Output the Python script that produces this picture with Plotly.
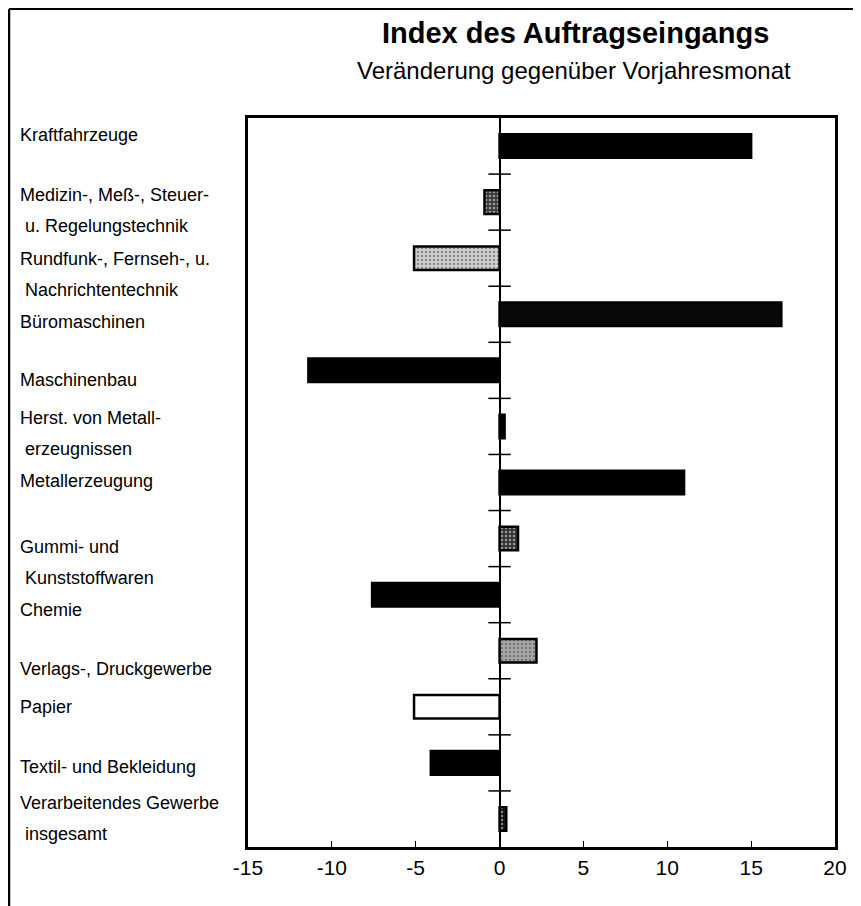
import plotly.graph_objects as go

# ---------------- data ----------------
categories = [
    "Kraftfahrzeuge",
    "Medizin-, Meß-, Steuer- u. Regelungstechnik",
    "Rundfunk-, Fernseh-, u. Nachrichtentechnik",
    "Büromaschinen",
    "Maschinenbau",
    "Herst. von Metallerzeugnissen",
    "Metallerzeugung",
    "Gummi- und Kunststoffwaren",
    "Chemie",
    "Verlags-, Druckgewerbe",
    "Papier",
    "Textil- und Bekleidung",
    "Verarbeitendes Gewerbe insgesamt",
]
label_lines = [
    ["Kraftfahrzeuge"],
    ["Medizin-, Meß-, Steuer-", "\u00a0u. Regelungstechnik"],
    ["Rundfunk-, Fernseh-, u.", "\u00a0Nachrichtentechnik"],
    ["Büromaschinen"],
    ["Maschinenbau"],
    ["Herst. von Metall-", "\u00a0erzeugnissen"],
    ["Metallerzeugung"],
    ["Gummi- und", "\u00a0Kunststoffwaren"],
    ["Chemie"],
    ["Verlags-, Druckgewerbe"],
    ["Papier"],
    ["Textil- und Bekleidung"],
    ["Verarbeitendes Gewerbe", "\u00a0insgesamt"],
]
values = [15.0, -0.9, -5.1, 16.8, -11.4, 0.3, 11.0, 1.1, -7.6, 2.2, -5.1, -4.1, 0.4]
x_ticks = [-15, -10, -5, 0, 5, 10, 15, 20]

title = "Index des Auftragseingangs"
subtitle = "Veränderung gegenüber Vorjahresmonat"

# ---------------- styles ----------------
bar_bg = ["#000000", "#3c3c3c", "#d0d0d0", "#080808", "#000000", "#000000", "#000000",
          "#333333", "#000000", "#a8a8a8", "#ffffff", "#000000", "#111111"]
bar_fg = ["#000000", "#9a9a9a", "#f4f4f4", "#303030", "#000000", "#000000", "#000000",
          "#9a9a9a", "#000000", "#e0e0e0", "#ffffff", "#000000", "#4a4a4a"]
bar_shape = ["", ".", ".", "", "", "", "", ".", "", ".", "", "", "."]
# vertical pixel offset of first label line relative to the bar centre (+ = down)
label_offset = [-11, -7, 1, 8, 10, -8, -2, 8, 15, 18, 0, 4, -16]
line_gap = 31

FONT = "Arial, 'Liberation Sans', sans-serif"
OFF = 8                     # page body margin of the html page
W, H = 861 - OFF, 906 - OFF
ML, MR, MT, MB = 248 - OFF, 26, 118 - OFF, 59
PW, PH = W - ML - MR, H - MT - MB


def px(x):
    return (x - OFF - ML) / PW


def py(y):
    return 1 - (y - OFF - MT) / PH


ypos = list(range(len(categories)))

fig = go.Figure()
fig.add_trace(go.Bar(
    x=values, y=ypos, orientation="h", width=0.42,
    marker=dict(
        color=bar_bg,
        line=dict(color="black", width=2.5),
        pattern=dict(shape=bar_shape, fgcolor=bar_fg,
                     size=4, solidity=0.3, fillmode="overlay"),
    ),
    hovertext=categories, showlegend=False,
))

# crossing ticks on the zero line at category boundaries
bounds = [i + 0.5 for i in ypos[:-1]]
fig.add_trace(go.Scatter(
    x=[0] * len(bounds), y=bounds, mode="markers",
    marker=dict(symbol="line-ew", size=16, line=dict(color="black", width=1.5)),
    hoverinfo="skip", showlegend=False,
))

annotations = []
for i, lines in enumerate(label_lines):
    for k, t in enumerate(lines):
        annotations.append(dict(
            x=0, xref="paper", xanchor="left", xshift=18 - OFF - ML,
            y=i, yref="y", yanchor="middle",
            yshift=-(label_offset[i] + k * line_gap),
            text=t, showarrow=False,
            font=dict(family=FONT, size=18, color="black"),
        ))

annotations.append(dict(
    x=px(575), y=py(33), xref="paper", yref="paper", xanchor="center", yanchor="middle",
    text="<b>" + title + "</b>", showarrow=False,
    font=dict(family=FONT, size=29, color="black")))
annotations.append(dict(
    x=px(574), y=py(70), xref="paper", yref="paper", xanchor="center", yanchor="middle",
    text=subtitle, showarrow=False,
    font=dict(family=FONT, size=24, color="black")))

shapes = [
    dict(type="line", xref="paper", yref="paper", x0=px(9), x1=px(9), y0=py(9), y1=py(906),
         line=dict(color="black", width=2.5)),
    dict(type="line", xref="paper", yref="paper", x0=px(9), x1=px(861), y0=py(9), y1=py(9),
         line=dict(color="black", width=2)),
    dict(type="line", xref="paper", yref="paper", x0=px(857), x1=px(857), y0=py(585), y1=py(906),
         line=dict(color="black", width=1.5)),
]

fig.update_layout(
    width=W, height=H,
    margin=dict(l=ML, r=MR, t=MT, b=MB),
    paper_bgcolor="white", plot_bgcolor="white",
    font=dict(family=FONT, color="black"),
    annotations=annotations,
    shapes=shapes,
    xaxis=dict(
        range=[-15, 20], tickvals=x_ticks, ticktext=[str(v) for v in x_ticks],
        showgrid=False, zeroline=True, zerolinecolor="black", zerolinewidth=1.5,
        showline=True, linecolor="black", linewidth=2.5, mirror=True,
        ticks="inside", ticklen=6, tickcolor="black", tickwidth=1,
        tickfont=dict(family=FONT, size=21, color="black"),
        automargin=False, fixedrange=True,
    ),
    yaxis=dict(
        range=[len(categories) - 0.5, -0.5],
        showgrid=False, zeroline=False, showticklabels=False, ticks="",
        showline=True, linecolor="black", linewidth=2.5, mirror=True,
        automargin=False, fixedrange=True,
    ),
)

fig.write_html("out.html")
